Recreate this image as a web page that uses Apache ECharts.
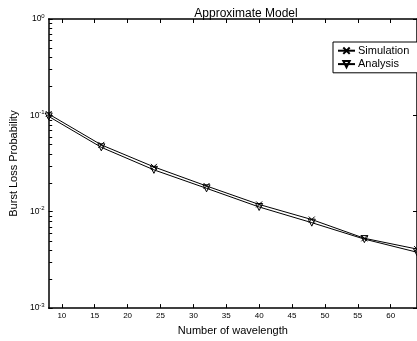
<!DOCTYPE html>
<html>
<head>
<meta charset="utf-8">
<script src="https://cdn.jsdelivr.net/npm/echarts@6/dist/echarts.min.js"></script>
<style>html,body{margin:0;padding:0;background:#fff;}#c{width:417px;height:341px;}</style>
</head>
<body>
<div id="c"></div>
<script>
const wavelengths = [8, 16, 24, 32, 40, 48, 56, 64];
const simulation = [0.1033, 0.0494, 0.0292, 0.0185, 0.0119, 0.0083, 0.0053, 0.0041];
const analysis = [0.0975, 0.0466, 0.0272, 0.0175, 0.0112, 0.0077, 0.0052, 0.0038];
const xTicks = [10, 15, 20, 25, 30, 35, 40, 45, 50, 55, 60];
const yTicks = [0.001, 0.01, 0.1, 1];
const yMinorTicks = [0.002,0.003,0.004,0.005,0.006,0.007,0.008,0.009,
  0.02,0.03,0.04,0.05,0.06,0.07,0.08,0.09,
  0.2,0.3,0.4,0.5,0.6,0.7,0.8,0.9];

const FONT = 'Liberation Sans, Arial, Helvetica, sans-serif';
const chart = echarts.init(document.getElementById('c'), null, {renderer: 'canvas'});

const xMark = 'path://M0,0L10,10M10,0L0,10';
const triDown = 'path://M0,0L10,0L5,10Z';

const option = {
  backgroundColor: '#fff',
  animation: false,
  title: {
    text: 'Approximate Model',
    left: 241, top: 3, textAlign: 'center',
    textStyle: {fontFamily: FONT, fontSize: 12, fontWeight: 'normal', color: '#000'}
  },
  legend: {
    orient: 'vertical', left: 333, top: 42,
    itemWidth: 17, itemHeight: 8, itemGap: 2,
    padding: [3, 12, 3, 4],
    borderColor: '#000', borderWidth: 1, borderRadius: 0,
    backgroundColor: '#fff',
    textStyle: {fontFamily: FONT, fontSize: 11, color: '#000', padding: [0,0,0,-2]},
    data: ['Simulation', 'Analysis']
  },
  grid: {left: 44, top: 19, width: 374, height: 295.3, containLabel: false},
  xAxis: [{
    type: 'value', min: 8, max: 64, position: 'bottom',
    name: 'Number of wavelength', nameLocation: 'middle', nameGap: 14,
    nameTextStyle: {fontFamily: FONT, fontSize: 11, color: '#000'},
    axisLine: {lineStyle: {color: '#000', width: 1.5}},
    axisTick: {inside: true, length: 4, customValues: xTicks, lineStyle: {color: '#000', width: 1}},
    axisLabel: {customValues: xTicks, fontFamily: FONT, fontSize: 8, color: '#000', margin: 4},
    splitLine: {show: false}
  }, {
    type: 'value', min: 8, max: 64, position: 'top',
    axisLine: {lineStyle: {color: '#000', width: 1.5}},
    axisTick: {inside: true, length: 4, customValues: xTicks, lineStyle: {color: '#000', width: 1}},
    axisLabel: {show: false},
    splitLine: {show: false}
  }],
  yAxis: [{
    type: 'log', logBase: 10, min: 0.001, max: 1, position: 'left',
    name: 'Burst Loss Probability', nameLocation: 'middle', nameGap: 21,
    nameTextStyle: {fontFamily: FONT, fontSize: 11, color: '#000'},
    axisLine: {lineStyle: {color: '#000', width: 1.5}},
    axisTick: {inside: true, length: 4, customValues: yTicks, lineStyle: {color: '#000', width: 1}},
    axisLabel: {
      customValues: yTicks, margin: 4,
      formatter: function (v) { return '{b|10}{s|' + Math.round(Math.log10(v)) + '}'; },
      rich: {
        b: {fontFamily: FONT, fontSize: 8.5, color: '#000'},
        s: {fontFamily: FONT, fontSize: 6, color: '#000', padding: [0, 0, 6, 0]}
      }
    },
    splitLine: {show: false}
  }, {
    type: 'log', logBase: 10, min: 0.001, max: 1, position: 'right',
    axisLine: {lineStyle: {color: '#000', width: 1.5}},
    axisTick: {inside: true, length: 4, customValues: yTicks},
    axisLabel: {show: false},
    splitLine: {show: false}
  }],
  series: [{
    name: 'Simulation', type: 'line',
    data: wavelengths.map((x, i) => [x, simulation[i]]),
    symbol: xMark, symbolSize: 6,
    lineStyle: {color: '#000', width: 1},
    itemStyle: {color: 'none', borderColor: '#000', borderWidth: 1},
    z: 3
  }, {
    name: 'Analysis', type: 'line',
    data: wavelengths.map((x, i) => [x, analysis[i]]),
    symbol: triDown, symbolSize: 7,
    lineStyle: {color: '#000', width: 1},
    itemStyle: {color: 'none', borderColor: '#000', borderWidth: 1},
    z: 3
  }, {
    name: 'minorTicks', type: 'custom', silent: true, clip: false,
    xAxisIndex: 0, yAxisIndex: 0,
    data: yMinorTicks.map(v => [8, v]),
    renderItem: function (params, api) {
      const p = api.coord([api.value(0), api.value(1)]);
      const y = Math.round(p[1]) + 0.5;
      return {type: 'line', shape: {x1: p[0] + 0.5, y1: y, x2: p[0] + 3.5, y2: y},
        style: {stroke: '#000', lineWidth: 1, fill: null}};
    },
    z: 10
  }]
};
chart.setOption(option);
</script>
</body>
</html>
